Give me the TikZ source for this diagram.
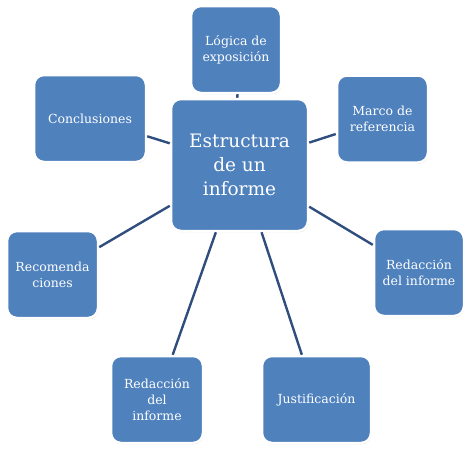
\documentclass[tikz,border=0pt]{standalone}
\usepackage{fontspec}
\setmainfont{DejaVu Serif}
\usetikzlibrary{scopes,shadows}
\definecolor{boxblue}{HTML}{4F81BD}
\definecolor{linkblue}{HTML}{2F4E7E}
\begin{document}
\begin{tikzpicture}[x=1pt,y=-1pt,
    topic/.style={fill=boxblue,draw=white,line width=2.5pt,rounded corners=10pt,
      text=white,align=center,inner sep=2pt,
      drop shadow={shadow xshift=0.6pt,shadow yshift=-1.2pt,fill=black,opacity=0.25}},
    link/.style={draw=linkblue,line width=2.4pt}]
  \useasboundingbox (0,0) rectangle (474,455);
  \node [topic,minimum width=137pt,minimum height=132pt,
    font=\fontsize{18.5}{24}\selectfont] (informe) at (239.5,165) {Estructura\\de un\\informe};
  { [every node/.style={topic,minimum height=87pt,font=\fontsize{12.5}{16}\selectfont}]
    \node [minimum width=90pt] (logica) at (236,49.5) {Lógica de\\exposición};
    \node [minimum width=91pt] (marco) at (382.5,119) {Marco de\\referencia};
    \node [minimum width=90pt] (redaccionder) at (419,272.5) {Redacción\\del informe};
    \node [minimum width=109pt] (justificacion) at (316.5,399.5) {Justificación};
    \node [minimum width=92pt] (redaccionizq) at (157,399.5) {Redacción\\del\\informe};
    \node [minimum width=91pt] (recomendaciones) at (52.5,274.5) {Recomenda\\ciones};
    \node [minimum width=112pt] (conclusiones) at (90,118.5) {Conclusiones};
  }
  \foreach \n in {logica,marco,redaccionder,justificacion,redaccionizq,recomendaciones,conclusiones}
    \draw [link] (informe) -- (\n);
\end{tikzpicture}
\end{document}
